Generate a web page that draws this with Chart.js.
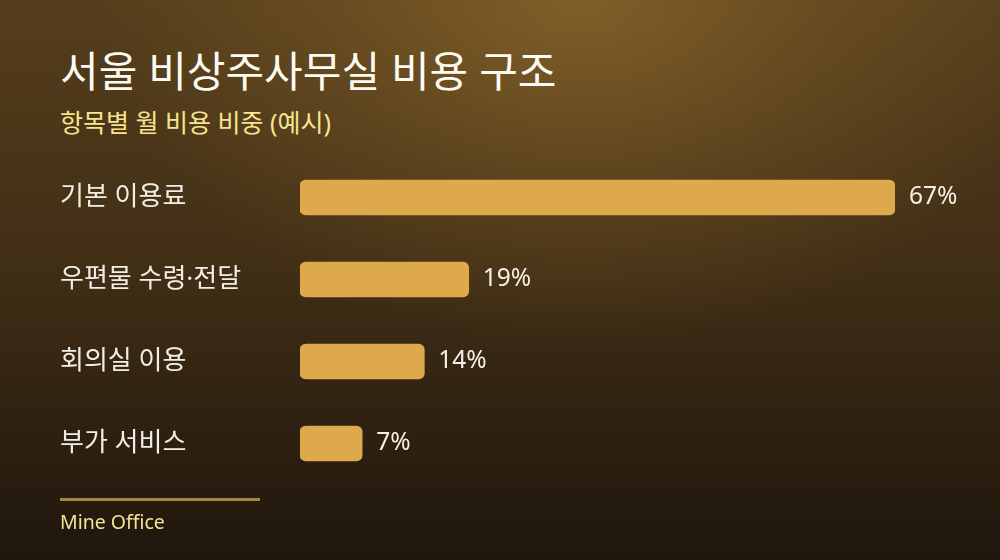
<!DOCTYPE html>
<html lang="ko">
<head>
<meta charset="utf-8">
<title>서울 비상주사무실 비용 구조</title>
<script src="https://cdn.jsdelivr.net/npm/chart.js@4.4.1/dist/chart.umd.min.js"></script>
<style>
  html, body { margin: 0; padding: 0; }
  body {
    width: 1000px; height: 560px; overflow: hidden; position: relative;
    font-family: "Noto Sans", "Noto Sans CJK KR", sans-serif;
    background:
      radial-gradient(ellipse 48% 62% at 58% 0%, rgba(150,112,46,0.65) 0%, rgba(150,112,46,0.25) 55%, rgba(150,112,46,0) 100%),
      linear-gradient(180deg, #563e1c 0%, #3f2d15 50%, #1f160d 100%);
  }
  #title {
    position: absolute; left: 60px; top: 45px; margin: 0;
    font-size: 42px; font-weight: 400; color: #fdfaf2; line-height: 52px;
  }
  #subtitle {
    position: absolute; left: 60px; top: 106px; margin: 0;
    font-size: 25px; font-weight: 400; color: #f6e58e; line-height: 32px;
  }
  #chart-wrap { position: absolute; left: 0; top: 0; width: 1000px; height: 560px; }
  #rule {
    position: absolute; left: 60px; top: 498px; width: 200px; height: 3px;
    background: #a8853f;
  }
  #source {
    position: absolute; left: 60px; top: 508px;
    font-size: 19.5px; color: #f3e38c; line-height: 28px;
  }
</style>
</head>
<body>
<h1 id="title">서울 비상주사무실 비용 구조</h1>
<p id="subtitle">항목별 월 비용 비중 (예시)</p>
<div id="chart-wrap"><canvas id="cost-chart"></canvas></div>
<div id="rule"></div>
<div id="source">Mine Office</div>

<script>
// data
const categories = ['기본 이용료', '우편물 수령·전달', '회의실 이용', '부가 서비스'];
const shares = [67, 19, 14, 7];

const FONT = '"Noto Sans", "Noto Sans CJK KR", sans-serif';

// draws the "67%" labels just past the end of each bar
const valueLabels = {
    id: 'valueLabels',
    afterDatasetsDraw(chart) {
        const ctx = chart.ctx;
        const meta = chart.getDatasetMeta(0);
        ctx.save();
        ctx.font = '400 24.5px ' + FONT;
        ctx.fillStyle = '#f6f1e6';
        ctx.textAlign = 'left';
        ctx.textBaseline = 'middle';
        meta.data.forEach((bar, i) => {
            ctx.fillText(shares[i] + '%', bar.x + 14, bar.y);
        });
        ctx.restore();
    }
};

document.addEventListener('DOMContentLoaded', () => {
    const ctx = document.getElementById('cost-chart').getContext('2d');
    new Chart(ctx, {
        type: 'bar',
        data: {
            labels: categories,
            datasets: [{
                data: shares,
                backgroundColor: '#dea94b',
                borderRadius: 6,
                borderSkipped: false,
                barThickness: 35
            }]
        },
        options: {
            indexAxis: 'y',
            responsive: true,
            maintainAspectRatio: false,
            animation: false,
            layout: {
                padding: { left: 60, right: 105, top: 156.5, bottom: 75.5 }
            },
            plugins: {
                legend: { display: false },
                tooltip: { enabled: false }
            },
            scales: {
                x: {
                    min: 0,
                    max: 67,
                    display: false
                },
                y: {
                    grid: { display: false },
                    border: { display: false },
                    afterFit: (scale) => { scale.width = 240; },
                    ticks: {
                        crossAlign: 'far',
                        color: '#f3eee4',
                        font: { family: FONT, size: 26, weight: '400' }
                    }
                }
            }
        },
        plugins: [valueLabels]
    });
});
</script>
</body>
</html>
